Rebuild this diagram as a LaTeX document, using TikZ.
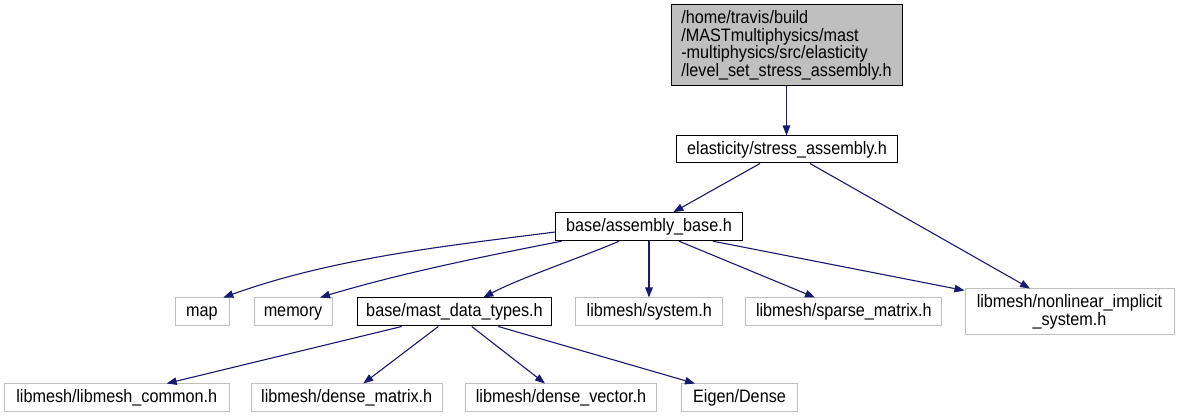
\documentclass[tikz,border=0pt]{standalone}
\usepackage{fontspec}
\setmainfont[FakeStretch=0.9]{Liberation Sans}
\usetikzlibrary{arrows.meta}
\definecolor{edgec}{HTML}{191970}
\definecolor{grayc}{HTML}{BFBFBF}
\begin{document}
\begin{tikzpicture}[x=1pt,y=-1pt,
  box/.style={draw=black, line width=1pt, fill=white, inner sep=0pt,
    font=\fontsize{18}{17.5}\selectfont, align=center, minimum height=28pt},
  ext/.style={box, draw=grayc},
  one/.style={text height=12pt, text depth=2pt},
  edge/.style={draw=edgec, line width=1.1pt, -{Triangle[length=10pt,width=7.5pt]}}]
\useasboundingbox (0,0) rectangle (1179,419);
\fill[white] (0,0) rectangle (1179,419);
% nodes
\node[box, fill=grayc, minimum width=231pt, minimum height=81pt, align=left] (top) at (786.5,45.5)
  {/home/travis/build\\/MASTmultiphysics/mast\\-multiphysics/src/elasticity\\/level\_set\_stress\_assembly.h};
\node[box, one, minimum width=221pt, minimum height=27pt] (stress) at (787,149.5) {elasticity/stress\_assembly.h};
\node[box, one, minimum width=186.6pt] (base) at (649,226.7) {base/assembly\_base.h};
\node[ext, one, minimum width=54pt] (map) at (202,312) {map};
\node[ext, one, minimum width=78pt] (memory) at (293,312) {memory};
\node[box, one, minimum width=194pt] (mast) at (454.5,312) {base/mast\_data\_types.h};
\node[ext, one, minimum width=146.7pt] (system) at (649.3,312) {libmesh/system.h};
\node[ext, one, minimum width=195.7pt] (sparse) at (843.8,312) {libmesh/sparse\_matrix.h};
\node[ext, minimum width=209pt, minimum height=46pt] (nonlin) at (1069.5,312) {libmesh/nonlinear\_implicit\\\_system.h};
\node[ext, one, minimum width=225pt] (common) at (116.7,398) {libmesh/libmesh\_common.h};
\node[ext, one, minimum width=191pt] (dmatrix) at (346.7,398) {libmesh/dense\_matrix.h};
\node[ext, one, minimum width=191pt] (dvector) at (561,398) {libmesh/dense\_vector.h};
\node[ext, one, minimum width=115.6pt] (eigen) at (739.5,398) {Eigen/Dense};
% edges
\draw[edge] (top.south) -- (top.south |- stress.north);
\draw[edge] ([xshift=-27pt]stress.south) -- ([xshift=24.3pt]base.north);
\draw[edge] ([xshift=23pt]stress.south) -- ([xshift=-39.5pt]nonlin.north);
\draw[edge] ([yshift=-5.3pt]base.west) .. controls (445.7,246) and (333.3,258) .. ([xshift=21.3pt]map.north);
\draw[edge] ([xshift=-87.3pt]base.south) .. controls (481.7,256.7) and (400,273.5) .. ([xshift=27pt]memory.north);
\draw[edge] ([xshift=-30pt]base.south) .. controls (580,258) and (520,278) .. ([xshift=28.8pt]mast.north);
\draw[edge] (base.south) -- (base.south |- system.north);
\draw[edge] ([xshift=30pt]base.south) -- ([xshift=-28.8pt]sparse.north);
\draw[edge] ([xshift=64pt]base.south) -- ([yshift=-2pt]nonlin.north west);
\draw[edge] ([xshift=-52.8pt]mast.south) -- ([xshift=50pt]common.north);
\draw[edge] ([xshift=-16.2pt]mast.south) -- ([xshift=16.6pt]dmatrix.north);
\draw[edge] ([xshift=17.2pt]mast.south) -- ([xshift=-16pt]dvector.north);
\draw[edge] ([xshift=43.8pt]mast.south) -- ([xshift=-44.5pt]eigen.north);
\end{tikzpicture}
\end{document}
